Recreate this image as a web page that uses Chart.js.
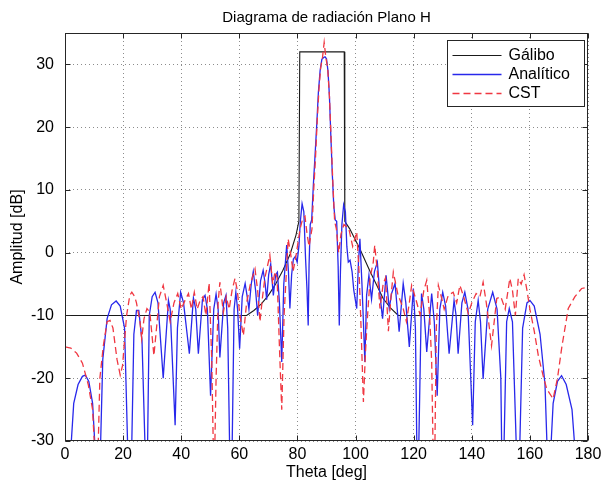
<!DOCTYPE html>
<html>
<head>
<meta charset="utf-8">
<script src="https://cdn.jsdelivr.net/npm/chart.js@4.4.0/dist/chart.umd.min.js"></script>
<style>
body { margin: 0; background: #fff; }
#wrap { width: 608px; height: 484px; }
</style>
</head>
<body>
<div id="wrap"><canvas id="radiacion" width="608" height="484"></canvas></div>
<script>
var chartTitle = 'Diagrama de radiación Plano H';
var seriesNames = ['Gálibo', 'Analítico', 'CST'];
var xTicks = [0, 20, 40, 60, 80, 100, 120, 140, 160, 180];
var yTicks = [-30, -20, -10, 0, 10, 20, 30];

// mascara (galibo)
var galiboTheta = [0, 62.5, 65, 67.5, 70, 72.5, 75, 77.5, 79.5, 80.5, 80.8, 96.1, 96.3, 98, 101.5, 105, 109.5, 112, 114.7, 180];
var galiboDb = [-10, -10, -9.2, -8.2, -6.8, -5, -2.8, -0.2, 2.8, 5, 32, 32, 5, 3.8, 0.6, -3, -7.3, -8.8, -10, -10];

// diagrama analitico
var analiticoTheta = [0, 1.5, 3, 4.5, 6, 7, 8.2, 9.5, 10.8, 12, 13, 14.5, 16, 17.6, 19, 20.5, 21.8, 22.8, 23.7, 24.6,
  25.4, 26.5, 27.8, 28.3, 29, 30, 31, 32, 33.8, 35.6, 36.2, 37.9, 38.7, 39.8, 40.8, 42.8, 44.2, 45, 45.9, 47.3,
  48.2, 49, 50.1, 51.2, 52, 52.7, 53.3, 54.6, 55.4, 56, 56.8, 57.4, 58.2, 58.8, 59.4, 60.1, 61, 62, 62.7, 63.3,
  64.1, 64.8, 65.6, 66.3, 67.3, 68.2, 68.9, 69.4, 70.1, 70.8, 71.7, 72.5, 73.1, 73.8, 74.6, 75.3, 76.3, 76.9, 77.4, 78,
  78.6, 79.3, 79.9, 80.5, 81, 81.6, 82.2, 82.8, 83.3, 83.7, 84, 84.4, 84.9, 85.5, 86, 86.6, 87.2, 87.8, 88.4, 89,
  89.5, 90, 90.5, 91, 91.5, 92, 92.5, 93, 93.5, 94, 94.4, 94.8, 95.3, 95.9, 96.5, 97, 97.5, 98.1, 98.8, 99.4,
  100.4, 101, 101.5, 102.2, 102.7, 103.2, 103.8, 104.6, 105.5, 106.5, 107.5, 108.4, 109.3, 110.5, 111.6, 112.4, 113.6, 115, 116.4, 117.3,
  118.5, 119.9, 120.6, 121.2, 121.6, 122.7, 123.5, 124.5, 126.2, 127.1, 128.1, 129, 130, 131, 132.2, 133.9, 134.6, 135.3, 136.6, 137.6,
  138.7, 140.3, 141.2, 142.2, 143, 143.9, 145.5, 147.2, 148.7, 150, 150.4, 150.9, 152, 152.9, 154, 155.6, 156.3, 157.5, 159, 160,
  161.5, 163.5, 165.2, 166.2, 166.8, 168, 169.5, 170.9, 172.5, 174.5, 176.1, 180];
var analiticoDb = [-45, -35, -24, -21, -19.7, -19.5, -20.5, -24, -35, -35, -17, -10.5, -8.3, -7.7, -8.5, -12, -35, -35, -13, -9.2,
  -9.2, -14, -35, -35, -10, -7, -6.3, -8, -20, -7.6, -9, -27.5, -12, -6.3, -8, -16.1, -7.2, -9, -16.1, -7.5,
  -6.8, -9, -22.8, -9, -6.6, -9, -16.7, -8, -6.8, -12, -35, -35, -9, -6.3, -9, -15.3, -7, -4.9, -7, -9,
  -5, -3, -6, -10, -4.5, -2.8, -5, -7.5, -3.5, -1.8, -6.8, -3.5, -3.1, -8, -17.4, -5, 1.2, -3, -8.9, -3.5,
  -1, -0.6, -1.5, 1, 5, 7.8, 6.5, -1, -6, -11.6, -2, 4.5, 5.2, 11, 15, 20, 25.5, 29, 30.8, 31.1,
  31.2, 30.9, 29, 25, 18.5, 12.5, 7.5, 5.2, 5, -2, -11.6, -3, 4.5, 7.6, 6.5, 1, -1.5, -1.2, -3, -6,
  -8.9, -1.5, 2.2, -5, -11, -17.4, -6.8, -3.6, -7.4, -3, -1.5, -6.8, -10.5, -3.6, -8.9, -6.5, -4.9, -12.6, -4.9, -8,
  -15, -5.7, -12, -35, -35, -6.5, -9, -15.8, -6.5, -11, -22.8, -9, -6.3, -8.5, -16.1, -7.6, -10, -16.1, -8, -6.3,
  -9, -27.5, -11, -7.6, -11, -20.1, -9, -6.3, -9, -20, -35, -35, -11, -8.9, -11, -35, -35, -12, -8, -7.6,
  -8.5, -13, -21, -35, -35, -24, -20.5, -19.6, -21, -25, -35, -50];

// simulacion CST
var cstTheta = [0, 2, 4, 6, 8, 9.5, 10.6, 11.2, 12, 13.2, 14.5, 15.5, 16.5, 17.9, 19, 19.8, 21.2, 22.3, 23, 24,
  24.6, 25.8, 26.4, 27.2, 28.2, 29.2, 30.6, 31.5, 32.5, 33.8, 35, 36.2, 37.5, 38.8, 40, 41.3, 42.5, 43.5, 44.5, 45.5,
  46.5, 47.5, 48.5, 49.6, 50.5, 51, 51.4, 52, 52.7, 53.3, 54.5, 55.5, 56.5, 57.5, 58.5, 59.3, 60.2, 61.4, 62.5, 63.7,
  65.4, 66.3, 67.1, 68, 68.8, 70.5, 71.5, 72.3, 73, 73.8, 74.6, 75.4, 76.8, 77.6, 78.5, 79.5, 80.9, 81.8, 82.6, 83.3,
  84, 85, 85.6, 86.2, 86.8, 87.4, 88, 88.6, 89.2, 89.8, 90.4, 91, 91.6, 92.2, 92.8, 93.4, 94.2, 95, 96, 97.7,
  99, 100.4, 101.2, 101.9, 102.7, 103.4, 104, 105, 106.1, 106.6, 107.5, 108.4, 109.5, 110.3, 111.3, 112.2, 113, 114.5, 116.4, 117.5,
  118.5, 119.3, 120.8, 122.2, 123.5, 124.5, 125.5, 126.2, 126.8, 127.2, 127.8, 128.5, 129.5, 130.5, 131.9, 133.6, 134.8, 135.9, 137.2, 138.8,
  140, 141.5, 142.8, 143.9, 145, 146.8, 148.6, 150, 151.5, 153.1, 154, 155, 156, 157, 158, 159, 160, 161.5, 162.9, 164.5,
  165.8, 168, 169.5, 171, 173.2, 175.5, 177.8, 180];
var cstDb = [-15, -15.2, -16, -17.6, -21, -25, -35, -35, -20, -14.8, -11, -10.8, -12, -17, -19.5, -18, -10, -6.8, -6.3, -7,
  -8, -11, -13.7, -10.5, -8.9, -9.5, -16.4, -12, -7, -5.2, -8, -11, -8, -6.5, -9, -7.6, -6.5, -9, -6.3, -9,
  -7.6, -7, -10, -4.8, -17, -30, -35, -20, -8, -4.7, -9.5, -7, -9, -6, -4.1, -6, -10, -13.2, -8, -5.2,
  -2.6, -6, -11, -7, -4, -0.4, -5, -3, -4, -15, -25, -10, 2.2, 0, -3, -0.5, 3.8, 5.4, 5.8, 3,
  1, 3.8, 10, 15, 21, 26, 29.5, 31, 33.5, 31, 29.5, 25, 18, 11, 5, 3.8, 0, 3, 4.5, 3.8,
  1, 3.3, -3, -12, -23.8, -16, -11, -4, -1.5, 1.2, -3, -8.9, -5, -4, -12.5, -7, -3.1, -6.5, -8.9, -11,
  -8, -5.2, -7.5, -9.9, -6, -4.4, -10, -17.4, -35, -35, -12, -5.2, -7, -9, -6.8, -6.3, -8, -5.2, -7, -9.7,
  -8, -6.5, -7, -4.7, -8, -14.8, -7.3, -7, -9, -4.1, -6, -10, -4.1, -5, -3.5, -6, -9, -12.5, -16.4, -19.5,
  -21.7, -23.3, -20, -15, -8.9, -7, -5.7, -5.5];

var fontFamily = '"Liberation Sans", Arial, Helvetica, sans-serif';

function toPoints(xs, ys) {
    return xs.map(function (x, i) { return { x: x, y: ys[i] }; });
}

// marco, marcas hacia dentro, titulo centrado en los ejes y leyenda con recuadro (estilo matlab)
var matlabFrame = {
    id: 'matlabFrame',
    afterDraw: function (chart) {
        var ctx = chart.ctx;
        var a = chart.chartArea;
        var sx = chart.scales.x, sy = chart.scales.y;
        var l = Math.round(a.left) + 0.5, r = Math.round(a.right) - 0.5;
        var t = Math.round(a.top) + 0.5, b = Math.round(a.bottom) - 0.5;
        ctx.save();
        ctx.strokeStyle = '#262626';
        ctx.lineWidth = 1;
        ctx.setLineDash([]);
        ctx.strokeRect(l, t, r - l, b - t);
        ctx.beginPath();
        xTicks.forEach(function (v) {
            var px = Math.round(sx.getPixelForValue(v)) + 0.5;
            ctx.moveTo(px, b); ctx.lineTo(px, b - 5);
            ctx.moveTo(px, t); ctx.lineTo(px, t + 5);
        });
        yTicks.forEach(function (v) {
            var py = Math.round(sy.getPixelForValue(v)) + 0.5;
            ctx.moveTo(l, py); ctx.lineTo(l + 5, py);
            ctx.moveTo(r, py); ctx.lineTo(r - 5, py);
        });
        ctx.stroke();

        // titulo
        ctx.fillStyle = '#000';
        ctx.font = '15px ' + fontFamily;
        ctx.textAlign = 'center';
        ctx.textBaseline = 'middle';
        ctx.fillText(chartTitle, (a.left + a.right) / 2, 18);

        // leyenda
        var bw = 137, bh = 66;
        var bx = Math.round(a.right) - 4 - bw + 0.5, by = Math.round(a.top) + 7 + 0.5;
        ctx.fillStyle = '#fff';
        ctx.fillRect(bx, by, bw, bh);
        ctx.strokeStyle = '#262626';
        ctx.strokeRect(bx, by, bw, bh);
        ctx.font = '16px ' + fontFamily;
        ctx.textAlign = 'left';
        ctx.fillStyle = '#000';
        chart.data.datasets.forEach(function (ds, i) {
            var yy = by + 15 + i * 19;
            ctx.strokeStyle = ds.borderColor;
            ctx.lineWidth = ds.borderWidth;
            ctx.setLineDash(ds.borderDash || []);
            ctx.beginPath();
            ctx.moveTo(bx + 5, yy);
            ctx.lineTo(bx + 54, yy);
            ctx.stroke();
            ctx.setLineDash([]);
            ctx.fillText(ds.label, bx + 61, yy);
        });
        ctx.restore();
    }
};

var ctx = document.getElementById('radiacion').getContext('2d');
var chart = new Chart(ctx, {
    type: 'line',
    data: {
        datasets: [{
            label: seriesNames[0],
            data: toPoints(galiboTheta, galiboDb),
            borderColor: '#1a1a1a',
            borderWidth: 1.1,
            order: 2
        }, {
            label: seriesNames[1],
            data: toPoints(analiticoTheta, analiticoDb),
            borderColor: 'rgb(40,40,235)',
            borderWidth: 1.3,
            order: 1
        }, {
            label: seriesNames[2],
            data: toPoints(cstTheta, cstDb),
            borderColor: 'rgb(240,55,65)',
            borderWidth: 1.3,
            borderDash: [7, 4],
            order: 0
        }]
    },
    options: {
        responsive: false,
        animation: false,
        layout: { padding: { top: 33, right: 20, bottom: 0, left: 0 } },
        elements: {
            point: { radius: 0, hoverRadius: 0 },
            line: { tension: 0, fill: false }
        },
        plugins: {
            legend: { display: false },
            tooltip: { enabled: false },
            title: { display: false }
        },
        scales: {
            x: {
                type: 'linear',
                min: 0,
                max: 180,
                ticks: { stepSize: 20, color: '#000', padding: 4, maxRotation: 0, autoSkip: false,
                    font: { family: fontFamily, size: 16 } },
                grid: { color: 'rgba(0,0,0,0.45)', drawTicks: false, lineWidth: 1 },
                border: { display: false, dash: [1, 3] },
                title: { display: true, text: 'Theta [deg]', color: '#000',
                    font: { family: fontFamily, size: 16 }, padding: { top: 0, bottom: 2 } },
                afterFit: function (s) { s.height = 43; }
            },
            y: {
                type: 'linear',
                min: -30,
                max: 35,
                ticks: { stepSize: 10, includeBounds: false, color: '#000', padding: 11,
                    font: { family: fontFamily, size: 16 } },
                grid: { color: 'rgba(0,0,0,0.45)', drawTicks: false, lineWidth: 1 },
                border: { display: false, dash: [1, 3] },
                title: { display: true, text: 'Amplitud [dB]', color: '#000',
                    font: { family: fontFamily, size: 16 }, padding: { top: 8, bottom: 0 } },
                afterFit: function (s) { s.width = 65; }
            }
        }
    },
    plugins: [matlabFrame]
});
</script>
</body>
</html>
